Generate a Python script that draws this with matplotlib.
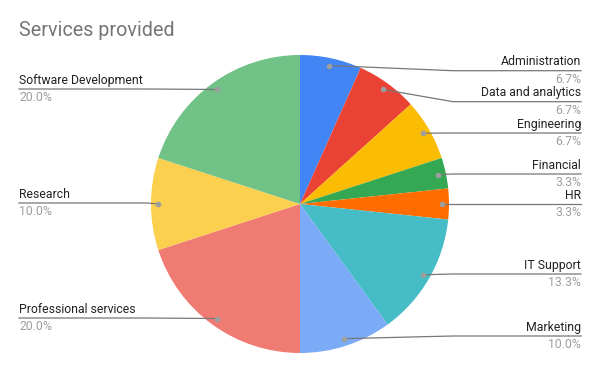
import matplotlib
matplotlib.use("Agg")
import matplotlib.pyplot as plt
import numpy as np

plt.rcParams['font.family'] = ['Roboto', 'DejaVu Sans']

# data (counts out of 30)
categories = ["Administration", "Data and analytics", "Engineering", "Financial", "HR",
              "IT Support", "Marketing", "Professional services", "Research",
              "Software Development"]
values = [2, 2, 2, 1, 1, 4, 3, 6, 3, 6]
colors = ["#4285F4", "#EA4335", "#FBBC04", "#34A853", "#FF6D01",
          "#46BDC6", "#7BAAF7", "#F07B72", "#FCD04F", "#71C287"]

# label line heights (pixels from top) for each slice, layout only
label_y = [70.7, 101.7, 133, 174, 204, 274, 336, 318, 203, 89]

W, H = 600, 371
cx, cy, R = 300, 204, 149

fig = plt.figure(figsize=(6, 3.71), dpi=100)
ax = fig.add_axes([0, 0, 1, 1])

wedges, _ = ax.pie(values, colors=colors, startangle=90, counterclock=False,
                   center=(cx, H - cy), radius=R, frame=True,
                   wedgeprops=dict(linewidth=0))
ax.set_xlim(0, W)
ax.set_ylim(0, H)
ax.axis("off")

fig.text(19 / W, 1 - 31 / H, "Services provided", fontsize=14.2, color="#757575",
         va="center", ha="left")

total = sum(values)
fs = 8.8
for w, name, v, ly in zip(wedges, categories, values, label_y):
    ang = np.deg2rad((w.theta1 + w.theta2) / 2)
    dx = cx + 0.95 * R * np.cos(ang)
    dy = (H - cy) + 0.95 * R * np.sin(ang)
    y = H - ly
    pct = f"{100 * v / total:.1f}%"
    if np.cos(ang) >= 0:
        ex = max(dx, 453)
        ax.plot([dx, ex, 581], [dy, y, y], color="#777777", lw=0.9, zorder=3)
        ax.text(581, y + 8.8, name, ha="right", va="center", fontsize=fs, color="#222222")
        ax.text(581, y - 8.5, pct, ha="right", va="center", fontsize=fs, color="#9e9e9e")
    else:
        ex = min(dx, 147)
        ax.plot([dx, ex, 19], [dy, y, y], color="#777777", lw=0.9, zorder=3)
        ax.text(19, y + 8.8, name, ha="left", va="center", fontsize=fs, color="#222222")
        ax.text(19, y - 8.5, pct, ha="left", va="center", fontsize=fs, color="#9e9e9e")
    ax.plot(dx, dy, "o", color="#9e9e9e", ms=3, zorder=4)

fig.savefig("out.png", dpi=100)
